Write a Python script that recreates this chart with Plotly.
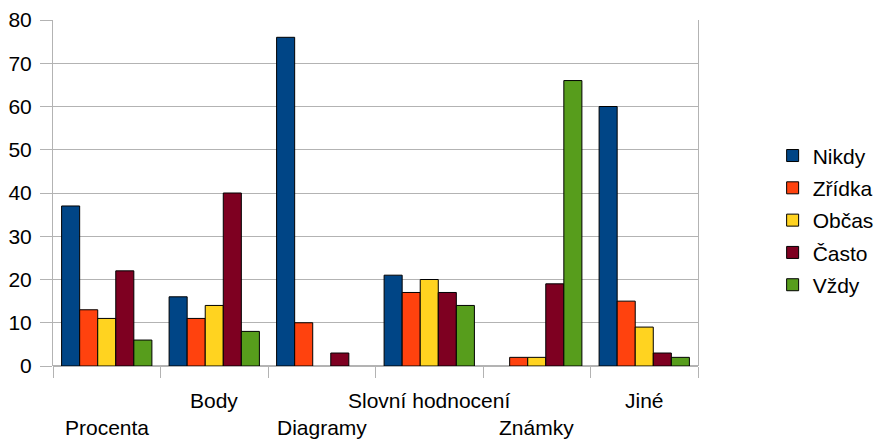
import plotly.graph_objects as go

categories = ["Procenta", "Body", "Diagramy", "Slovní hodnocení", "Známky", "Jiné"]
series_names = ["Nikdy", "Zřídka", "Občas", "Často", "Vždy"]
nikdy = [37, 16, 76, 21, 0, 60]
zridka = [13, 11, 10, 17, 2, 15]
obcas = [11, 14, 0, 20, 2, 9]
casto = [22, 40, 3, 17, 19, 3]
vzdy = [6, 8, 0, 14, 66, 2]
y_ticks = [0, 10, 20, 30, 40, 50, 60, 70, 80]

series_values = [nikdy, zridka, obcas, casto, vzdy]
colors = ["#004586", "#ff420e", "#ffd320", "#7e0021", "#579d1c"]

FONT = "Liberation Sans, Arial, sans-serif"
FS = 21

fig = go.Figure()
for name, vals, col in zip(series_names, series_values, colors):
    # zero answers leave an empty slot instead of a flat outline
    fig.add_trace(go.Bar(
        x=categories, y=[v if v else None for v in vals], name=name,
        legendgroup=name,
        marker=dict(color=col, line=dict(color="#000000", width=1)),
    ))

# staggered category labels under the axis
for i, cat in enumerate(categories):
    fig.add_annotation(
        x=cat, y=0, xref="x", yref="paper", text=cat, showarrow=False,
        yanchor="middle", yshift=-61 if i % 2 == 0 else -34,
        font=dict(family=FONT, size=FS, color="#000000"),
    )

fig.update_layout(
    width=877, height=439,
    margin=dict(l=53, r=179, t=20, b=73, autoexpand=False),
    paper_bgcolor="white", plot_bgcolor="white",
    barmode="group", bargap=0.16, bargroupgap=0,
    font=dict(family=FONT, size=FS, color="#000000"),
    showlegend=True,
    legend=dict(
        xref="container", yref="container",
        x=0.881, xanchor="left", y=0.498, yanchor="middle",
        traceorder="grouped", tracegroupgap=2,
        font=dict(family=FONT, size=FS, color="#000000"),
        itemwidth=30,
    ),
)
fig.update_xaxes(
    showticklabels=False, tickson="boundaries", ticks="outside", ticklen=11,
    tickcolor="#b3b3b3", showgrid=False, showline=False, zeroline=False,
    range=[-0.5, 5.5],
)
fig.update_yaxes(
    range=[0, 80], tickvals=y_ticks, ticks="outside", ticklen=12,
    tickcolor="#b3b3b3", showgrid=True, gridcolor="#b3b3b3", gridwidth=1,
    showline=True, linecolor="#b3b3b3", mirror=True, zeroline=True,
    zerolinecolor="#b3b3b3", tickfont=dict(family=FONT, size=FS),
    ticklabelstandoff=4,
)

fig.write_html("out.html")
